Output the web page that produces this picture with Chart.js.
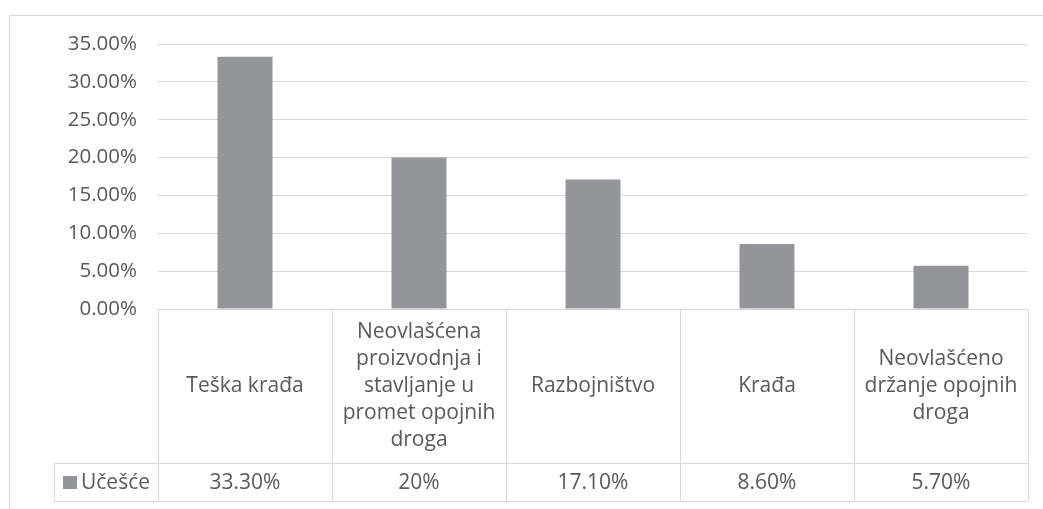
<!DOCTYPE html>
<html>
<head>
<meta charset="utf-8">
<script src="https://cdn.jsdelivr.net/npm/chart.js@4"></script>
<style>
  html, body { margin: 0; padding: 0; background: #fff; }
  #wrap { position: relative; width: 1043px; height: 509px; }
  #frame { position: absolute; left: 9px; top: 15px; width: 1040px; height: 500px;
           border-left: 1px solid #d9d9d9; border-top: 1px solid #d9d9d9; }
</style>
</head>
<body>
<div id="wrap">
  <div id="frame"></div>
  <canvas id="crimeChart" width="1043" height="509"></canvas>
</div>
<script>
// categories, wrapped like in the data table
const categories = [
    ['Teška krađa'],
    ['Neovlašćena', 'proizvodnja i', 'stavljanje u', 'promet opojnih', 'droga'],
    ['Razbojništvo'],
    ['Krađa'],
    ['Neovlašćeno', 'držanje opojnih', 'droga']
];
const seriesName = 'Učešće';
const shares = [33.3, 20, 17.1, 8.6, 5.7];
const shareLabels = ['33.30%', '20%', '17.10%', '8.60%', '5.70%'];

const textColor = '#595959';
const lineColor = '#d9d9d9';
const barColor = '#939598';
const fontFamily = '"Open Sans", sans-serif';

// draws the excel-like data table under the plot
const dataTable = {
    id: 'dataTable',
    afterDraw(chart) {
        const ctx = chart.ctx;
        const x = chart.scales.x;
        const area = chart.chartArea;
        const top = area.bottom;
        const mid = top + 154;
        const bottom = mid + 38;
        const legendLeft = 54;
        const step = (area.right - area.left) / categories.length;

        ctx.save();
        ctx.strokeStyle = lineColor;
        ctx.lineWidth = 1;
        ctx.beginPath();
        ctx.moveTo(area.left, top + 0.5);
        ctx.lineTo(area.right, top + 0.5);
        ctx.moveTo(legendLeft, mid + 0.5);
        ctx.lineTo(area.right, mid + 0.5);
        ctx.moveTo(legendLeft, bottom + 0.5);
        ctx.lineTo(area.right, bottom + 0.5);
        ctx.moveTo(legendLeft + 0.5, mid);
        ctx.lineTo(legendLeft + 0.5, bottom);
        for (let i = 0; i <= categories.length; i++) {
            const px = Math.round(x.getPixelForValue(i) - step / 2) + 0.5;
            ctx.moveTo(px, top);
            ctx.lineTo(px, bottom);
        }
        ctx.stroke();

        ctx.fillStyle = textColor;
        ctx.font = '21px ' + fontFamily;
        ctx.textAlign = 'center';
        ctx.textBaseline = 'middle';
        const lineH = 27;
        categories.forEach((lines, i) => {
            const cx = x.getPixelForValue(i);
            const cy = (top + mid) / 2 - (lines.length - 1) * lineH / 2;
            lines.forEach((t, j) => ctx.fillText(t, cx, cy + j * lineH));
            ctx.fillText(shareLabels[i], cx, (mid + bottom) / 2 + 1);
        });

        // series key
        ctx.fillStyle = barColor;
        ctx.fillRect(63, (mid + bottom) / 2 - 6, 14, 13);
        ctx.fillStyle = textColor;
        ctx.textAlign = 'left';
        ctx.fillText(seriesName, 81, (mid + bottom) / 2 + 1);
        ctx.restore();
    }
};

const ctx = document.getElementById('crimeChart').getContext('2d');
const crimeChart = new Chart(ctx, {
    type: 'bar',
    data: {
        labels: categories.map(l => l.join(' ')),
        datasets: [{
            label: seriesName,
            data: shares,
            backgroundColor: barColor,
            categoryPercentage: 1,
            barPercentage: 0.316
        }]
    },
    options: {
        responsive: false,
        animation: false,
        layout: { padding: { top: 44, right: 15, bottom: 200, left: 0 } },
        plugins: {
            legend: { display: false },
            tooltip: { enabled: false }
        },
        scales: {
            x: { display: false },
            y: {
                min: 0,
                max: 35,
                afterFit(scale) { scale.width = 158; },
                ticks: {
                    stepSize: 5,
                    padding: 21,
                    color: textColor,
                    font: { family: fontFamily, size: 20.5 },
                    callback: v => v.toFixed(2) + '%'
                },
                grid: { color: lineColor, drawTicks: false },
                border: { display: false }
            }
        }
    },
    plugins: [dataTable]
});
</script>
</body>
</html>
